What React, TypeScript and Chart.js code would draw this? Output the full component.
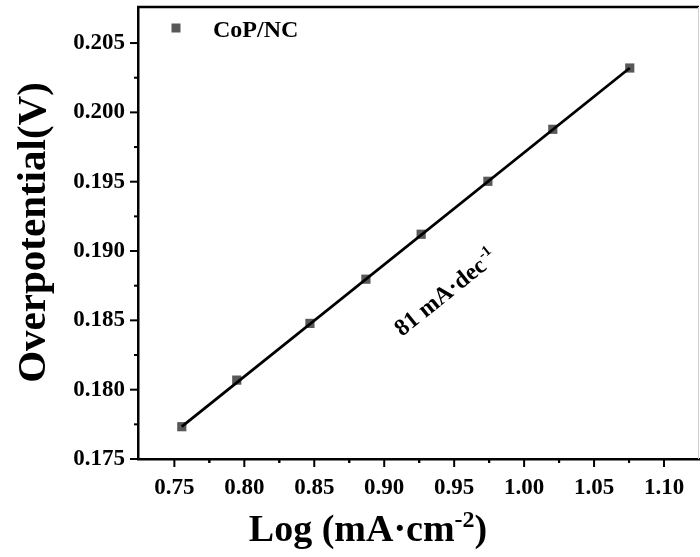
import React, { useEffect, useRef } from "react";
import { Chart, registerables } from "chart.js";

Chart.register(...registerables);

// ---- data ----
const logJ = [0.7553, 0.7946, 0.8469, 0.8869, 0.9264, 0.9741, 1.0205, 1.0755];
const overpotential = [0.17733, 0.18069, 0.18478, 0.18797, 0.19121, 0.19503, 0.19878, 0.2032];
const fitX = [0.7553, 1.0755];
const fitY = [0.17733, 0.2032];
const xTicks = [0.75, 0.8, 0.85, 0.9, 0.95, 1.0, 1.05, 1.1];
const yTicks = [0.175, 0.18, 0.185, 0.19, 0.195, 0.2, 0.205];
const seriesLabel = "CoP/NC";
const slopeText = "81 mA·dec";
const slopeSup = "-1";
const xTitleMain = "Log (mA·cm";
const xTitleSup = "-2";
const xTitleEnd = ")";
const yTitle = "Overpotential(V)";

const SERIF = '"Liberation Serif", "Times New Roman", serif';
const MARKER = "#595959";

const decorPlugin = {
  id: "decor",
  afterDraw(chart: any) {
    const ctx = chart.ctx as CanvasRenderingContext2D;
    const { left, right, top, bottom } = chart.chartArea;
    const xs = chart.scales.x;
    const ys = chart.scales.y;
    ctx.save();
    ctx.strokeStyle = "#000";
    ctx.lineWidth = 2;
    const drawX = (v: number, len: number) => {
      const px = xs.getPixelForValue(v);
      if (px < left + 2 || px > right - 2) return;
      ctx.beginPath();
      ctx.moveTo(px, bottom);
      ctx.lineTo(px, bottom + len);
      ctx.stroke();
    };
    xTicks.forEach((v) => {
      drawX(v, 8);
      drawX(v + 0.025, 4);
      drawX(v - 0.025, 4);
    });
    const drawY = (v: number, len: number) => {
      const py = ys.getPixelForValue(v);
      if (py < top + 2 || py > bottom + 1) return;
      ctx.beginPath();
      ctx.moveTo(left, py);
      ctx.lineTo(left - len, py);
      ctx.stroke();
    };
    yTicks.forEach((v) => {
      drawY(v, 8);
      drawY(v + 0.0025, 4);
    });
    // top border
    ctx.lineWidth = 2.5;
    ctx.beginPath();
    ctx.moveTo(left - 1, top);
    ctx.lineTo(right, top);
    ctx.stroke();
    // right border (faint, cut at edge)
    ctx.strokeStyle = "#cfcfcf";
    ctx.lineWidth = 1;
    ctx.beginPath();
    ctx.moveTo(right - 0.5, top);
    ctx.lineTo(right - 0.5, bottom);
    ctx.stroke();

    // legend
    ctx.fillStyle = MARKER;
    ctx.fillRect(171.5, 23.5, 9, 9);
    ctx.fillStyle = "#000";
    ctx.font = `bold 24px ${SERIF}`;
    ctx.textAlign = "left";
    ctx.textBaseline = "alphabetic";
    ctx.fillText(seriesLabel, 213, 37);

    // x title
    const mainF = `bold 38px ${SERIF}`;
    const supF = `bold 24px ${SERIF}`;
    ctx.font = mainF;
    const w1 = ctx.measureText(xTitleMain).width;
    const w3 = ctx.measureText(xTitleEnd).width;
    ctx.font = supF;
    const w2 = ctx.measureText(xTitleSup).width;
    const total = w1 + w2 + w3;
    const sx = 368 - total / 2;
    const by = 541;
    ctx.font = mainF;
    ctx.fillText(xTitleMain, sx, by);
    ctx.font = supF;
    ctx.fillText(xTitleSup, sx + w1, by - 14);
    ctx.font = mainF;
    ctx.fillText(xTitleEnd, sx + w1 + w2, by);

    // y title
    ctx.save();
    ctx.translate(45, 232.5);
    ctx.rotate(-Math.PI / 2);
    ctx.font = `bold 41px ${SERIF}`;
    ctx.textAlign = "center";
    ctx.fillText(yTitle, 0, 0);
    ctx.restore();

    // slope annotation along the fit line direction
    const p0x = xs.getPixelForValue(fitX[0]);
    const p0y = ys.getPixelForValue(fitY[0]);
    const p1x = xs.getPixelForValue(fitX[1]);
    const p1y = ys.getPixelForValue(fitY[1]);
    const ang = Math.atan2(p1y - p0y, p1x - p0x);
    ctx.save();
    ctx.translate(402, 337);
    ctx.rotate(ang);
    ctx.font = `bold 24px ${SERIF}`;
    ctx.textAlign = "left";
    ctx.fillText(slopeText, 0, 0);
    const sw = ctx.measureText(slopeText).width;
    ctx.font = `bold 15px ${SERIF}`;
    ctx.fillText(slopeSup, sw + 1, -10);
    ctx.restore();

    ctx.restore();
  },
};

export default function App() {
  const ref = useRef<HTMLCanvasElement | null>(null);
  useEffect(() => {
    if (!ref.current) return;
    const chart = new Chart(ref.current, {
      type: "scatter",
      data: {
        datasets: [
          {
            label: "fit",
            data: fitX.map((x, i) => ({ x, y: fitY[i] })),
            showLine: true,
            borderColor: "#000",
            borderWidth: 2.8,
            pointRadius: 0,
            order: 0,
          } as any,
          {
            label: seriesLabel,
            data: logJ.map((x, i) => ({ x, y: overpotential[i] })),
            pointStyle: "rect",
            pointRadius: 6.5,
            backgroundColor: MARKER,
            borderColor: MARKER,
            borderWidth: 0,
            showLine: false,
            order: 1,
          } as any,
        ],
      },
      options: {
        responsive: false,
        animation: false,
        devicePixelRatio: 1,
        layout: { autoPadding: false, padding: { top: 7, right: 1, left: 0, bottom: 0 } },
        plugins: { legend: { display: false }, tooltip: { enabled: false } },
        scales: {
          x: {
            type: "linear",
            min: 0.724,
            max: 1.125,
            afterBuildTicks: (s: any) => {
              s.ticks = xTicks.map((v) => ({ value: v }));
            },
            afterFit: (s: any) => {
              s.height = 98;
              s.paddingLeft = 0;
              s.paddingRight = 0;
            },
            grid: { display: false, drawTicks: false },
            border: { display: true, color: "#000", width: 2.5 },
            ticks: {
              padding: 15,
              color: "#000",
              font: { family: SERIF, size: 23, weight: "bold" },
              callback: (v: any) => Number(v).toFixed(2),
              maxRotation: 0,
              autoSkip: false,
            },
          },
          y: {
            type: "linear",
            min: 0.175,
            max: 0.2076,
            afterBuildTicks: (s: any) => {
              s.ticks = yTicks.map((v) => ({ value: v }));
            },
            afterFit: (s: any) => {
              s.width = 138;
              s.paddingTop = 0;
              s.paddingBottom = 0;
            },
            grid: { display: false, drawTicks: false },
            border: { display: true, color: "#000", width: 2.5 },
            ticks: {
              padding: 13,
              color: "#000",
              font: { family: SERIF, size: 23, weight: "bold" },
              callback: (v: any) => Number(v).toFixed(3),
              autoSkip: false,
            },
          },
        },
      } as any,
      plugins: [decorPlugin],
    });
    return () => chart.destroy();
  }, []);
  return (
    <div style={{ position: "absolute", left: 0, top: 0, width: 700, height: 557, background: "#fff" }}>
      <canvas ref={ref} width={700} height={557} style={{ display: "block" }} />
    </div>
  );
}
